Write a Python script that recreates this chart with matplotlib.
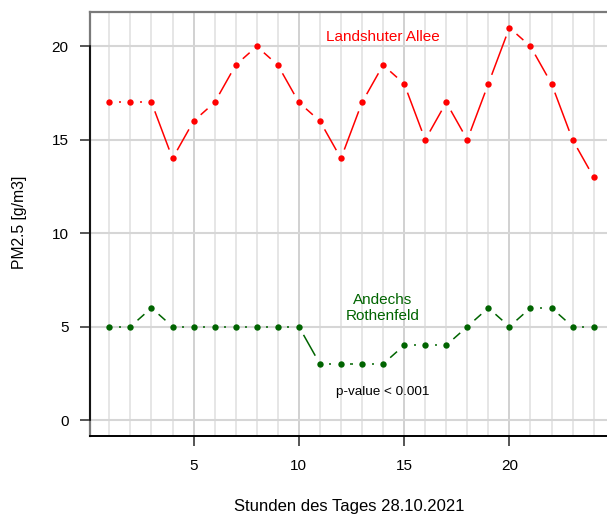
import numpy as np
import matplotlib
matplotlib.use("Agg")
import matplotlib.pyplot as plt
from matplotlib.collections import LineCollection

plt.rcParams['font.family'] = ['Liberation Sans', 'DejaVu Sans']

# Hourly PM2.5 on 28.10.2021
hours = list(range(1, 25))
landshuter = [17, 17, 17, 14, 16, 17, 19, 20, 19, 17, 16, 14,
              17, 19, 18, 15, 17, 15, 18, 21, 20, 18, 15, 13]
andechs = [5, 5, 6, 5, 5, 5, 5, 5, 5, 5, 3, 3,
           3, 3, 4, 4, 4, 5, 6, 5, 6, 6, 5, 5]
xticks = [5, 10, 15, 20]
yticks = [0, 5, 10, 15, 20]

fig = plt.figure(figsize=(6.07, 5.15), dpi=100)
ax = fig.add_axes([90 / 607, (515 - 435.7) / 515, 523 / 607, 423.7 / 515])
ax.set_xlim(0.08, 24.92)
ax.set_ylim(-0.84, 21.84)


def gapped(x, y, color, gap_px=9.5):
    # points joined by lines that stop short of each point (like type="b")
    pts = ax.transData.transform(np.column_stack([x, y]))
    segs = []
    for p0, p1 in zip(pts[:-1], pts[1:]):
        d = p1 - p0
        length = np.hypot(*d)
        if length <= 2 * gap_px:
            continue
        u = d / length
        a = ax.transData.inverted().transform(p0 + u * gap_px)
        b = ax.transData.inverted().transform(p1 - u * gap_px)
        segs.append([a, b])
    ax.add_collection(LineCollection(segs, colors=color, linewidths=1.1, zorder=3))
    ax.plot(x, y, 'o', color=color, markersize=4.6, markeredgewidth=0, zorder=4)


# grid
for h in hours:
    ax.axvline(h, color='#E6E6E6', lw=1.4, zorder=1)
for t in xticks:
    ax.axvline(t, color='#D2D2D2', lw=1.4, zorder=1)
for t in yticks:
    ax.axhline(t, color='#D6D6D6', lw=1.5, zorder=1)

gapped(hours, landshuter, '#FF0000')
gapped(hours, andechs, '#006400')

ax.text(14, 20.5, 'Landshuter Allee', color='#FF0000', fontsize=11,
        ha='center', va='center')
ax.text(14, 6.0, 'Andechs\nRothenfeld', color='#006400', fontsize=11,
        ha='center', va='center', linespacing=1.15)
ax.text(14, 1.5, 'p-value < 0.001', color='black', fontsize=9.7,
        ha='center', va='center')

# frame: grey box, black axis lines
for s in ['top', 'left', 'right']:
    ax.spines[s].set_color('#7A7A7A')
    ax.spines[s].set_linewidth(1.6)
ax.spines['bottom'].set_color('black')
ax.spines['bottom'].set_linewidth(1.4)
ax.plot([0.08, 0.08], [0, 20], color='black', lw=1.2, clip_on=False, zorder=5)

ax.set_xticks(xticks)
ax.set_yticks(yticks)
ax.tick_params(direction='out', length=7.5, width=1.4, color='#555555',
               labelsize=11, pad=8)
ax.tick_params(axis='x', pad=9)

fig.text(20 / 607, 1 - 222 / 515, 'PM2.5 [g/m3]', fontsize=11.3,
         rotation=90, ha='center', va='center')
fig.text(349 / 607, 1 - 507 / 515, 'Stunden des Tages 28.10.2021',
         fontsize=12, ha='center', va='center')

fig.savefig('out.png', dpi=100)
